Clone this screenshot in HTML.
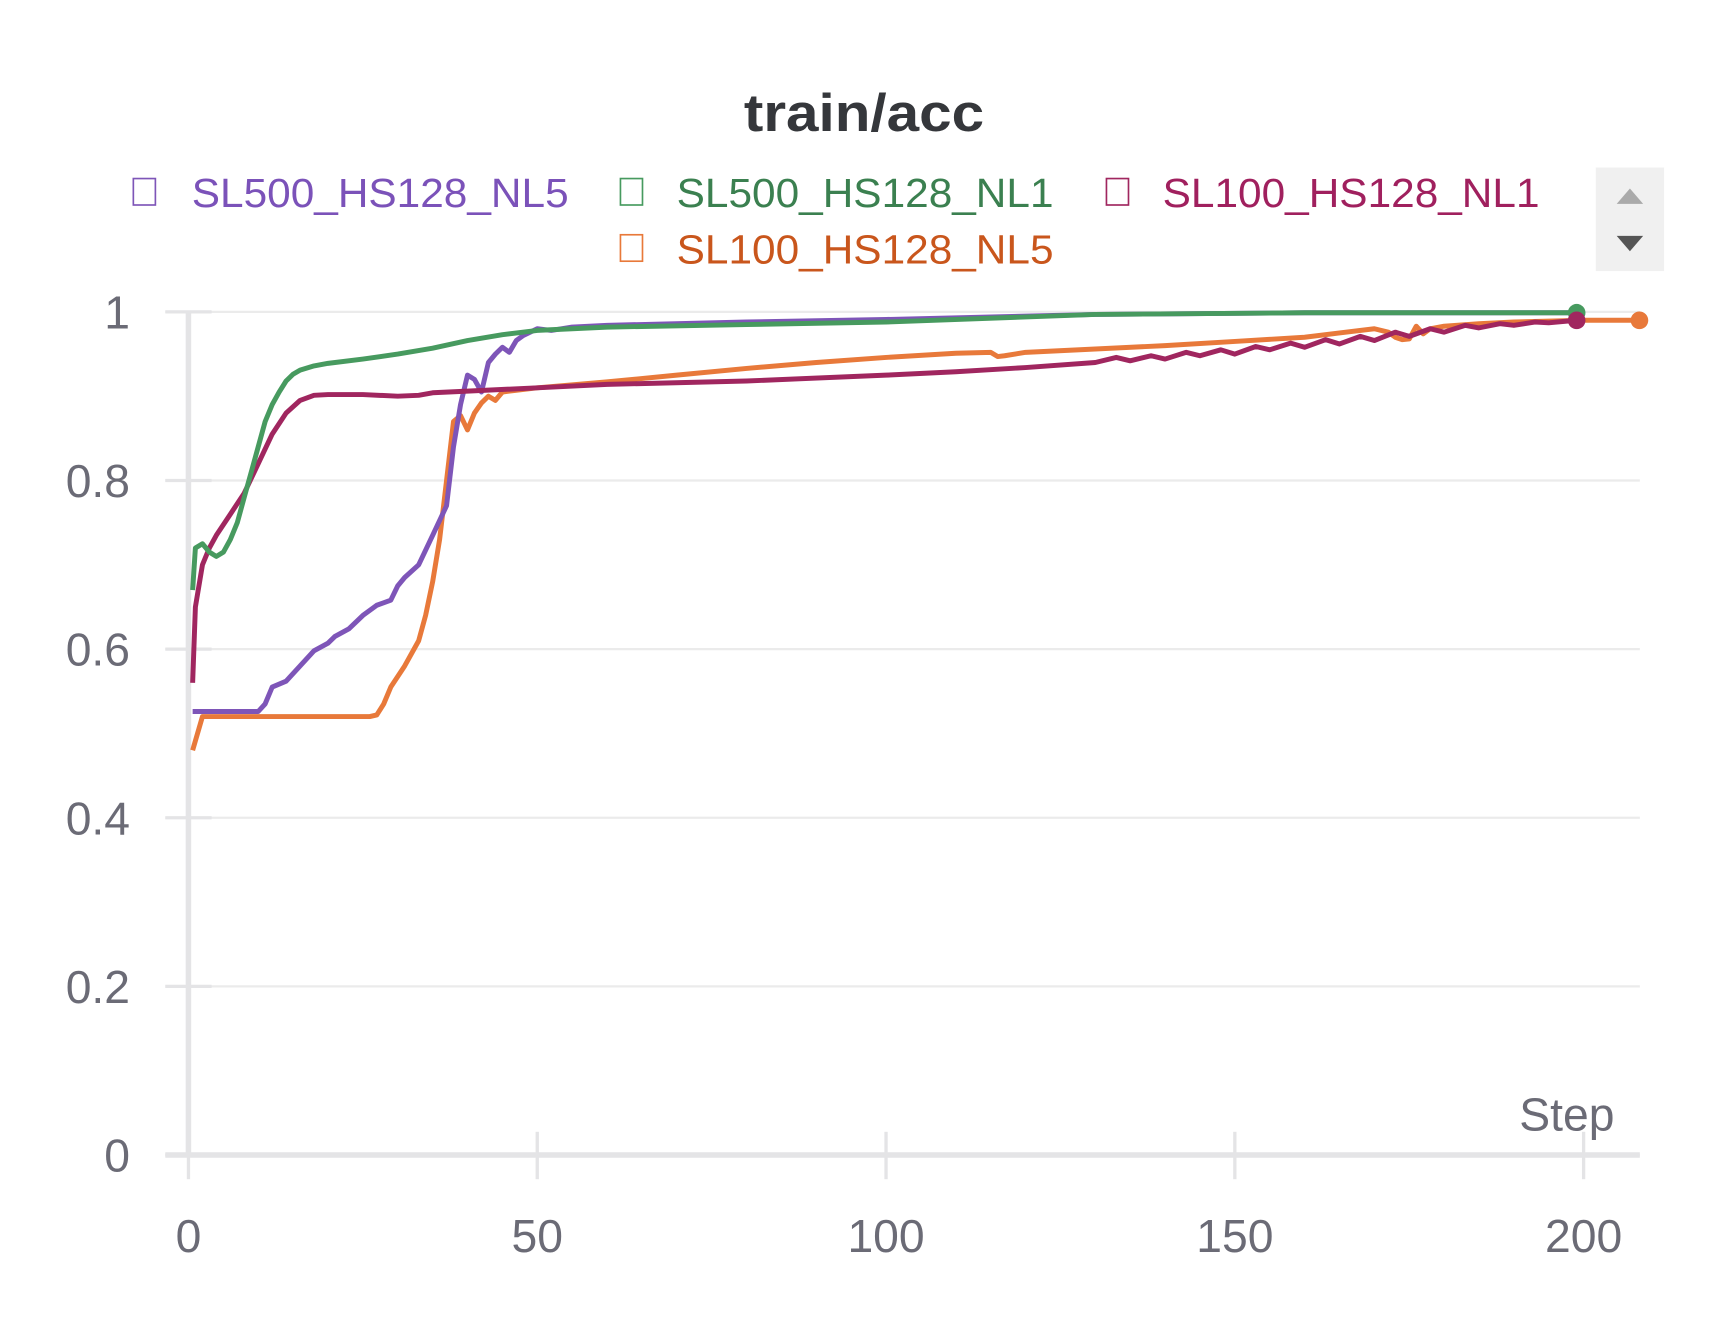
<!DOCTYPE html>
<html><head><meta charset="utf-8"><style>
html,body{margin:0;padding:0;background:#fff;}
svg{display:block;font-family:"Liberation Sans",sans-serif;}
</style></head><body>
<svg id="chart" width="1728" height="1328" viewBox="0 0 1568 1205" xmlns="http://www.w3.org/2000/svg">
<text x="675" y="119" textLength="218" lengthAdjust="spacingAndGlyphs" font-size="48" font-weight="bold" fill="#35373b">train/acc</text>
<g font-size="37">
 <g><rect x="121" y="162" width="20" height="24" fill="none" stroke="#7e55b8" stroke-width="1.5"/><text x="174" y="188" textLength="342" lengthAdjust="spacingAndGlyphs" fill="#7b52b9">SL500_HS128_NL5</text></g>
 <g><rect x="563" y="162" width="20" height="24" fill="none" stroke="#479a5f" stroke-width="1.5"/><text x="614" y="188" textLength="342" lengthAdjust="spacingAndGlyphs" fill="#3b8050">SL500_HS128_NL1</text></g>
 <g><rect x="1004" y="162" width="20" height="24" fill="none" stroke="#a0265f" stroke-width="1.5"/><text x="1055" y="188" textLength="342" lengthAdjust="spacingAndGlyphs" fill="#a0205e">SL100_HS128_NL1</text></g>
 <g><rect x="563" y="213" width="20" height="24" fill="none" stroke="#e8793a" stroke-width="1.5"/><text x="614" y="239" textLength="342" lengthAdjust="spacingAndGlyphs" fill="#c9561c">SL100_HS128_NL5</text></g>
</g>
<g>
 <rect x="1448" y="152" width="62" height="94" fill="#f0f0f0"/>
 <polygon points="1467,185 1491,185 1479,171" fill="#aaaaaa"/>
 <polygon points="1467,214 1491,214 1479,228" fill="#555555"/>
</g>
<g id="axes"></g>
<g id="series"></g>
<text x="1465" y="1026" text-anchor="end" font-size="42" fill="#6b6b76">Step</text>
</svg>
<script>
const xTicks=[0,50,100,150,200];
const yTicks=[0,0.2,0.4,0.6,0.8,1];
const yTickLabels=["0","0.2","0.4","0.6","0.8","1"];
const names=["SL500_HS128_NL5","SL500_HS128_NL1","SL100_HS128_NL1","SL100_HS128_NL5"];
const colors=["#7e55b8","#479a5f","#a0265f","#e8793a"];
const purpleSteps=[0.6,10,11,12,14,16,18,20,21,23,25,27,29,30,31,33,35,37,38,39,40,41,42,43,44,45,46,47,48,50,52,55,60,80,100,130,160,199];
const purpleVals=[0.526,0.526,0.535,0.555,0.562,0.58,0.598,0.607,0.615,0.624,0.64,0.652,0.658,0.675,0.685,0.7,0.735,0.77,0.84,0.89,0.925,0.92,0.905,0.94,0.95,0.958,0.952,0.966,0.972,0.98,0.978,0.982,0.984,0.988,0.991,0.997,0.999,0.999];
const greenSteps=[0.6,1,2,3,4,5,6,7,8,9,10,11,12,13,14,15,16,18,20,25,30,35,40,45,50,55,60,80,100,130,160,199];
const greenVals=[0.67,0.72,0.725,0.715,0.71,0.715,0.73,0.75,0.78,0.81,0.84,0.87,0.89,0.905,0.918,0.926,0.931,0.936,0.939,0.944,0.95,0.957,0.966,0.973,0.978,0.98,0.982,0.985,0.988,0.997,0.999,0.999];
const maroonSteps=[0.6,1,2,3,4,6,8,10,12,14,16,18,20,25,30,33,35,40,50,60,80,100,110,120,130,133,135,138,140,143,145,148,150,153,155,158,160,163,165,168,170,173,175,178,180,183,185,188,190,193,195,199];
const maroonVals=[0.56,0.65,0.7,0.72,0.735,0.76,0.785,0.82,0.855,0.88,0.895,0.901,0.902,0.902,0.9,0.901,0.904,0.906,0.91,0.914,0.918,0.925,0.929,0.934,0.94,0.946,0.942,0.948,0.944,0.952,0.948,0.955,0.95,0.959,0.955,0.963,0.958,0.967,0.962,0.971,0.966,0.976,0.971,0.98,0.976,0.984,0.981,0.986,0.984,0.988,0.987,0.99];
const orangeSteps=[0.6,2,26,27,28,29,31,33,34,35,36,37,38,39,40,41,42,43,44,45,47,50,60,70,80,90,100,110,115,116,117,120,130,140,150,160,165,170,172,173,174,175,176,177,178,180,185,190,200,208];
const orangeVals=[0.48,0.52,0.52,0.522,0.535,0.555,0.58,0.61,0.64,0.68,0.73,0.8,0.87,0.877,0.86,0.88,0.892,0.9,0.895,0.905,0.907,0.91,0.917,0.925,0.933,0.94,0.946,0.951,0.952,0.947,0.948,0.952,0.956,0.96,0.965,0.97,0.975,0.98,0.976,0.97,0.967,0.968,0.983,0.974,0.98,0.983,0.986,0.988,0.99,0.99];

const X0=171,XS=(1437-171)/200,Y0=1048,YS=765;
const sx=s=>X0+s*XS, sy=v=>Y0-v*YS;
const NS="http://www.w3.org/2000/svg";
const axes=document.getElementById('axes'), series=document.getElementById('series');
function mk(tag,attrs,parent){const e=document.createElementNS(NS,tag);for(const k in attrs)e.setAttribute(k,attrs[k]);parent.appendChild(e);return e;}
yTicks.forEach((t,i)=>{
  const g=mk('line',{x1:150,x2:1488,y1:sy(t),y2:sy(t),stroke:'#ebebeb','stroke-width':2},axes);
  
  
  const tk=mk('line',{x1:150,x2:192,y1:sy(t),y2:sy(t),stroke:'#e4e4e6','stroke-width':3},axes);
  
  
  const tx=mk('text',{x:118,y:sy(t)+15,'text-anchor':'end','font-size':42,fill:'#6b6b76'},axes);
  tx.textContent=yTickLabels[i];
  
  
});
const ya=mk('line',{x1:171,x2:171,y1:sy(1),y2:1050,stroke:'#e4e4e6','stroke-width':5},axes);


const xa=mk('line',{x1:150,x2:1488,y1:1048,y2:1048,stroke:'#e4e4e6','stroke-width':5},axes);


xTicks.forEach(t=>{
  const tk=mk('line',{x1:sx(t),x2:sx(t),y1:1027,y2:1070,stroke:'#e4e4e6','stroke-width':3},axes);
  
  
  const tx=mk('text',{x:sx(t),y:1136,'text-anchor':'middle','font-size':42,fill:'#6b6b76'},axes);
  tx.textContent=String(t);
  
  
});
const all=[[purpleSteps,purpleVals],[greenSteps,greenVals],[maroonSteps,maroonVals],[orangeSteps,orangeVals]];
const order=[3,0,2,1];
order.forEach(i=>{
  const [st,vl]=all[i];
  const d=st.map((s,j)=>(j?'L':'M')+sx(s).toFixed(1)+' '+sy(vl[j]).toFixed(1)).join(' ');
  const p=mk('path',{d:d,fill:'none',stroke:colors[i],'stroke-width':4.5,'stroke-linejoin':'round'},series);
  
  
});
[1,2,3].forEach(i=>{
  const [st,vl]=all[i];
  const c=mk('circle',{cx:sx(st[st.length-1]),cy:sy(vl[vl.length-1]),r:8,fill:colors[i]},series);
  
  
});
</script>
</body></html>
